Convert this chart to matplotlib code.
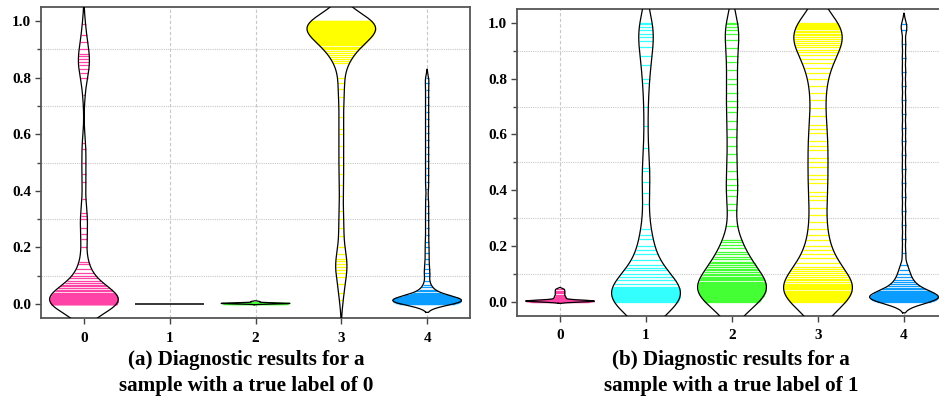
import numpy as np
import matplotlib
matplotlib.use("Agg")
import matplotlib.pyplot as plt
from matplotlib.ticker import MultipleLocator

plt.rcParams["font.family"] = "Liberation Serif"
plt.rcParams["font.weight"] = "bold"

CLASSES = [0, 1, 2, 3, 4]
COLORS = ["#ff42a6", "#33ffff", "#44ff33", "#ffff00", "#0a9cff"]

# (a) predicted probabilities per class, samples whose true label is 0
A_CLASS0 = [
    0.000, 0.0002, 0.0005, 0.0007, 0.001, 0.0012, 0.0015, 0.0017, 0.002, 0.0022,
    0.0025, 0.0027, 0.003, 0.0032, 0.0035, 0.0037, 0.004, 0.0045, 0.005, 0.0055,
    0.006, 0.0065, 0.007, 0.0075, 0.008, 0.0085, 0.009, 0.0095, 0.010, 0.011,
    0.012, 0.013, 0.014, 0.015, 0.016, 0.018, 0.020, 0.022, 0.024, 0.026,
    0.028, 0.030, 0.033, 0.036, 0.040, 0.045, 0.050, 0.056, 0.062, 0.068,
    0.075, 0.082, 0.090, 0.098, 0.108, 0.125, 0.140, 0.148, 0.200, 0.230,
    0.248, 0.268, 0.300, 0.312, 0.322, 0.370, 0.430, 0.460, 0.500, 0.548,
    0.570, 0.740, 0.800, 0.815, 0.830, 0.845, 0.855, 0.865, 0.875, 0.885,
    0.900, 0.925, 0.950, 0.990,
]
A_CLASS1 = [0.0, 0.0, 0.0, 0.0, 0.0]
A_CLASS2 = [0.000, 0.0005, 0.001, 0.001, 0.0015, 0.002, 0.002, 0.0025, 0.003, 0.004, 0.008]
A_CLASS3 = [
    1.000, 0.9995, 0.999, 0.9985, 0.998, 0.9975, 0.997, 0.9965, 0.996, 0.9955,
    0.995, 0.9945, 0.994, 0.9935, 0.993, 0.9925, 0.992, 0.9915, 0.991, 0.9905,
    0.990, 0.989, 0.988, 0.987, 0.986, 0.985, 0.984, 0.982, 0.980, 0.978,
    0.976, 0.974, 0.972, 0.970, 0.968, 0.966, 0.964, 0.962, 0.960, 0.957,
    0.954, 0.951, 0.948, 0.945, 0.942, 0.939, 0.936, 0.933, 0.930, 0.927,
    0.924, 0.920, 0.915, 0.910, 0.905, 0.900, 0.895, 0.888, 0.880, 0.872,
    0.865, 0.858, 0.851, 0.800, 0.780, 0.760, 0.730, 0.700, 0.660, 0.620,
    0.600, 0.560, 0.520, 0.490, 0.460, 0.420, 0.380, 0.330, 0.300, 0.270,
    0.240, 0.200, 0.175, 0.160, 0.150, 0.140, 0.130, 0.120, 0.110, 0.095,
    0.070, 0.040, 0.015,
]
A_CLASS4 = [
    0.000, 0.001, 0.002, 0.003, 0.004, 0.0045, 0.005, 0.0055, 0.006, 0.0065,
    0.007, 0.0075, 0.008, 0.0085, 0.009, 0.0095, 0.010, 0.0105, 0.011, 0.0115,
    0.012, 0.0125, 0.013, 0.0135, 0.014, 0.015, 0.016, 0.017, 0.018, 0.019,
    0.020, 0.022, 0.024, 0.026, 0.028, 0.030, 0.033, 0.036, 0.040, 0.045,
    0.050, 0.058, 0.066, 0.080, 0.100, 0.110, 0.125, 0.140, 0.160, 0.180,
    0.200, 0.220, 0.245, 0.270, 0.295, 0.320, 0.345, 0.370, 0.405, 0.430,
    0.455, 0.480, 0.505, 0.530, 0.555, 0.580, 0.605, 0.630, 0.655, 0.680,
    0.705, 0.730, 0.755, 0.780, 0.800,
]

# (b) predicted probabilities per class, samples whose true label is 1
B_CLASS0 = [
    0.000, 0.0005, 0.001, 0.001, 0.0015, 0.002, 0.002, 0.0025, 0.003, 0.0035,
    0.004, 0.005, 0.008, 0.012, 0.016, 0.020, 0.025, 0.030, 0.035, 0.040,
    0.045,
]
B_CLASS1 = [
    0.000, 0.001, 0.002, 0.003, 0.004, 0.005, 0.006, 0.007, 0.008, 0.009,
    0.010, 0.011, 0.012, 0.013, 0.014, 0.015, 0.016, 0.017, 0.018, 0.019,
    0.020, 0.022, 0.024, 0.026, 0.028, 0.030, 0.032, 0.034, 0.036, 0.038,
    0.040, 0.042, 0.044, 0.046, 0.048, 0.052, 0.064, 0.076, 0.090, 0.098,
    0.114, 0.122, 0.131, 0.150, 0.172, 0.185, 0.200, 0.225, 0.240, 0.262,
    0.350, 0.390, 0.430, 0.470, 0.480, 0.550, 0.630, 0.700, 0.785, 0.800,
    0.850, 0.880, 0.915, 0.935, 0.950, 0.962, 0.975, 0.985, 0.995, 1.000,
]
B_CLASS2 = [
    0.000, 0.002, 0.004, 0.006, 0.008, 0.010, 0.012, 0.014, 0.016, 0.018,
    0.020, 0.022, 0.024, 0.026, 0.028, 0.030, 0.032, 0.034, 0.036, 0.038,
    0.040, 0.043, 0.046, 0.049, 0.052, 0.056, 0.060, 0.064, 0.068, 0.072,
    0.076, 0.080, 0.085, 0.090, 0.095, 0.100, 0.106, 0.112, 0.118, 0.124,
    0.130, 0.137, 0.144, 0.152, 0.160, 0.170, 0.180, 0.192, 0.205, 0.215,
    0.220, 0.270, 0.330, 0.350, 0.380, 0.400, 0.420, 0.440, 0.470, 0.500,
    0.530, 0.560, 0.590, 0.620, 0.650, 0.680, 0.700, 0.720, 0.750, 0.780,
    0.800, 0.830, 0.860, 0.880, 0.910, 0.940, 0.960, 0.975, 0.985, 0.995,
    1.000,
]
B_CLASS3 = [
    0.000, 0.002, 0.004, 0.006, 0.008, 0.010, 0.013, 0.016, 0.019, 0.022,
    0.025, 0.028, 0.031, 0.034, 0.037, 0.040, 0.044, 0.048, 0.052, 0.056,
    0.060, 0.065, 0.070, 0.076, 0.082, 0.088, 0.095, 0.102, 0.110, 0.118,
    0.126, 0.140, 0.155, 0.170, 0.185, 0.200, 0.220, 0.240, 0.260, 0.285,
    0.310, 0.335, 0.365, 0.380, 0.395, 0.425, 0.440, 0.455, 0.485, 0.500,
    0.515, 0.545, 0.560, 0.575, 0.605, 0.620, 0.635, 0.665, 0.695, 0.725,
    0.750, 0.775, 0.800, 0.820, 0.840, 0.858, 0.872, 0.885, 0.895, 0.905,
    0.914, 0.922, 0.930, 0.937, 0.944, 0.950, 0.956, 0.962, 0.967, 0.972,
    0.977, 0.981, 0.985, 0.989, 0.993, 0.996, 0.998, 1.000,
]
B_CLASS4 = [
    0.000, 0.002, 0.004, 0.005, 0.006, 0.007, 0.008, 0.009, 0.010, 0.011,
    0.012, 0.013, 0.014, 0.015, 0.016, 0.018, 0.020, 0.022, 0.025, 0.028,
    0.031, 0.034, 0.037, 0.040, 0.045, 0.050, 0.056, 0.062, 0.070, 0.078,
    0.088, 0.100, 0.115, 0.130, 0.175, 0.225, 0.275, 0.325, 0.375, 0.425,
    0.475, 0.525, 0.575, 0.625, 0.675, 0.725, 0.775, 0.825, 0.875, 0.925,
    0.975, 0.995,
]

PANEL_A = [A_CLASS0, A_CLASS1, A_CLASS2, A_CLASS3, A_CLASS4]
PANEL_B = [B_CLASS0, B_CLASS1, B_CLASS2, B_CLASS3, B_CLASS4]

# KDE bandwidth for each violin
BW_A = [0.045, 0.01, 0.0015, 0.045, 0.015]
BW_B = [0.003, 0.07, 0.06, 0.065, 0.02]

CAPTION_A = ["(a) Diagnostic results for a", "sample with a true label of 0"]
CAPTION_B = ["(b) Diagnostic results for a", "sample with a true label of 1"]

HALF_WIDTH = 0.4
CUT = 2.0


def kde(values, bw, grid):
    d = (grid[:, None] - np.asarray(values)[None, :]) / bw
    return np.exp(-0.5 * d ** 2).sum(axis=1)


def draw_violin(ax, pos, values, bw, color):
    values = np.asarray(values, dtype=float)
    if np.ptp(values) == 0:
        ax.hlines(values[0], pos - HALF_WIDTH, pos + HALF_WIDTH,
                  color="black", lw=1.1, zorder=4)
        return
    grid = np.linspace(values.min() - CUT * bw, values.max() + CUT * bw, 400)
    dens = kde(values, bw, grid)
    peak = dens.max()
    half = dens / peak * HALF_WIDTH
    ax.fill_betweenx(grid, pos - half, pos + half, color="white", lw=0, zorder=2)
    stick = kde(values, bw, values) / peak * HALF_WIDTH
    ax.hlines(values, pos - stick, pos + stick, colors=color, lw=0.9, zorder=3)
    xs = np.concatenate([pos - half, (pos + half)[::-1], [pos - half[0]]])
    ys = np.concatenate([grid, grid[::-1], [grid[0]]])
    ax.plot(xs, ys, color="black", lw=0.9, zorder=4)


def style_axes(ax):
    ax.set_xlim(-0.5, 4.5)
    ax.set_ylim(-0.05, 1.05)
    ax.set_xticks(CLASSES)
    ax.set_xticklabels([str(c) for c in CLASSES])
    ax.yaxis.set_major_locator(MultipleLocator(0.2))
    ax.yaxis.set_minor_locator(MultipleLocator(0.1))
    ax.yaxis.set_major_formatter(plt.FormatStrFormatter("%.1f"))
    ax.tick_params(axis="both", which="major", labelsize=11, length=4,
                   width=1, color="#444444", direction="out")
    ax.tick_params(axis="y", which="major", pad=3)
    ax.tick_params(axis="x", which="major", pad=6)
    ax.tick_params(axis="y", which="minor", length=3, width=1, color="#444444")
    ax.tick_params(axis="x", which="minor", bottom=False)
    ax.grid(axis="x", which="major", color="#c8c8c8", ls=(0, (3, 2)), lw=0.8)
    ax.grid(axis="y", which="minor", color="#c8c8c8", ls=(0, (1, 1)), lw=0.8)
    ax.grid(axis="y", which="major", visible=False)
    ax.set_axisbelow(True)
    for s in ax.spines.values():
        s.set_color("#555555")
        s.set_linewidth(1.3)


fig = plt.figure(figsize=(9.39, 4.01), dpi=100)
W, H = 939.0, 401.0
ax_a = fig.add_axes([41 / W, (H - 318) / H, 429 / W, 311 / H])
ax_b = fig.add_axes([517 / W, (H - 315.6) / H, 430 / W, 306.5 / H])

for ax, panel, bws in [(ax_a, PANEL_A, BW_A), (ax_b, PANEL_B, BW_B)]:
    style_axes(ax)
    for pos, vals, bw, col in zip(CLASSES, panel, bws, COLORS):
        draw_violin(ax, pos, vals, bw, col)

for cx, lines in [(246, CAPTION_A), (731, CAPTION_B)]:
    for line, base in zip(lines, [365.5, 390.5]):
        fig.text(cx / W, (H - base) / H, line, ha="center", va="baseline",
                 fontsize=15.2, fontweight="bold")

fig.savefig("out.png", dpi=100)
